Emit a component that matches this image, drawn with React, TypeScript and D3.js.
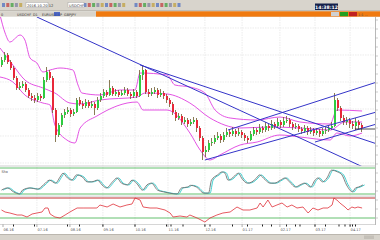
import React from "react";
import * as d3 from "d3";

// [open, high, low, close] (arbitrary price points)
const candles: [number, number, number, number][] = [
  [100,108,98,105],[105,113,103,110],[110,112,101,103],[103,105,95,97],[97,99,85,87],
  [87,89,75,77],[77,83,75,79],[79,84,77,81],[81,83,73,75],[75,77,67,69],
  [69,72,64,67],[67,70,62,65],[65,72,63,69],[69,71,64,67],[67,88,66,85],
  [85,98,83,93],[93,95,85,87],[87,89,52,55],[55,57,23,30],[30,42,28,40],
  [40,52,38,50],[50,56,47,53],[53,58,51,55],[55,57,48,51],[51,56,49,53],
  [53,67,52,65],[65,68,59,61],[61,64,56,59],[59,66,57,63],[63,65,57,59],
  [59,64,57,61],[61,63,50,57],[57,68,55,65],[65,72,63,69],[69,76,67,73],
  [73,75,68,70],[70,85,69,77],[77,79,69,71],[71,76,69,73],[73,75,68,70],
  [70,75,69,72],[72,78,70,75],[75,77,69,71],[71,73,66,69],[69,76,67,73],
  [73,75,67,69],[69,95,68,90],[90,100,85,95],[95,96,71,73],[73,76,68,71],
  [71,77,69,73],[73,78,71,75],[75,77,67,70],[70,76,68,72],[72,74,66,69],
  [69,71,62,65],[65,67,58,61],[61,63,50,53],[53,55,44,47],[47,52,45,49],
  [49,51,40,43],[43,48,41,45],[45,47,38,41],[41,46,39,43],[43,48,41,45],
  [45,47,33,37],[37,39,24,27],[27,29,5,13],[13,19,8,15],[15,25,13,22],
  [22,27,19,23],[23,30,21,27],[27,33,25,29],[29,31,22,25],[25,33,23,30],
  [30,37,28,33],[33,36,28,31],[31,38,29,34],[34,36,28,31],[31,37,29,33],
  [33,35,27,30],[30,32,24,27],[27,29,22,25],[25,34,24,31],[31,38,29,35],
  [35,37,30,33],[33,41,31,37],[37,39,32,35],[35,43,33,39],[39,41,34,37],
  [37,45,35,41],[41,43,36,39],[39,47,37,43],[43,45,37,40],[40,48,38,44],
  [44,49,42,45],[45,47,38,41],[41,43,35,38],[38,42,36,39],[39,41,33,36],
  [36,38,31,34],[34,40,32,37],[37,39,30,33],[33,38,31,35],[35,37,29,32],
  [32,37,30,34],[34,36,28,31],[31,37,29,34],[34,38,31,35],[35,40,33,37],
  [37,43,35,39],[39,72,38,65],[65,67,54,57],[57,59,44,47],[47,50,40,43],
  [43,48,40,45],[45,47,37,41],[41,44,36,39],[39,47,35,43],[43,45,36,40],
  [40,42,33,37],
];

// Bollinger bands [bar index, price]
const bbUpper: [number, number][] = [
  [-0.5,150],[1.2,132],[2.8,123],[6.2,130],[7.8,125],[9.5,107],[11.8,102],[13.8,93],
  [16.2,95],[19.5,97],[23.8,95],[25.5,80],[26.8,72],[32.8,70],[39.5,75],[44.5,75],
  [46.2,92],[55.2,90],[57.8,80],[62.8,78],[67.8,72],[71.2,55],[76.2,47],[85.2,45],
  [92.8,48],[99.5,43],[109.5,41],[111.8,55],[120.2,54],
];
const bbMiddle: [number, number][] = [
  [-0.5,117],[3.8,100],[7.8,85],[13.8,77],[17.8,72],[22.8,62],[26.2,61],[32.8,65],
  [45.2,68],[47.8,72],[55.2,71],[62.8,62],[69.5,47],[79.5,37],[89.5,38],[99.5,37],
  [109.5,35],[114.5,43],[120.2,43],
];
const bbLower: [number, number][] = [
  [-0.5,88],[3.8,83],[7.8,70],[13.8,62],[16.2,60],[17.8,40],[21.8,25],[24.5,22],
  [26.2,37],[31.8,49],[45.2,63],[47.2,55],[55.2,55],[62.8,32],[66.2,15],[69.5,5],
  [72.8,10],[79.5,20],[85.2,23],[92.8,30],[99.5,28],[109.5,25],[111.8,32],[116.2,29],
  [120.2,32],
];

// Trend lines [[idx, price],[idx, price]]
const trendLines: [number, number][][] = [
  [[11.8,148],[120.5,-2]],
  [[46.2,100],[126.2,20]],
  [[75.5,35],[126.2,84]],
  [[67.8,5],[126.2,54]],
  [[104.5,23],[126.2,42]],
];
const currentPrice = 36;

// Stochastic main line [idx, value]
const stoch: [number, number][] = [
  [0,29],[2,34],[4,25],[6,20],[7,29],[9.5,34],[12,31],[14,41],[16,52],[18,45],
  [19.5,59],[20.5,68],[22,57],[23.5,52],[25,64],[27,59],[28.5,48],[30,48],[32,52],
  [33.5,41],[35,34],[37,48],[38.5,57],[40,45],[42,41],[43.5,52],[45,45],[47,29],
  [48.5,41],[50,45],[52,29],[54,25],[56,22],[58.5,20],[60,34],[62,36],[63,40],
  [65,36],[67.5,22],[69,22],[70,52],[72,64],[73.5,71],[74.5,68],[75.5,52],[77,57],
  [78,64],[79,68],[80,57],[82,45],[83.5,48],[85,57],[86,64],[88,52],[89.5,45],
  [91,45],[93,52],[94.5,57],[96,48],[98,36],[99.5,41],[101,45],[103,36],[104.5,52],
  [105.5,57],[107,48],[108.5,57],[110,75],[112,71],[113.5,64],[115,41],[117,25],
  [118,34],[119,36],[120.5,41],
];

// RSI line [idx, value]
const rsi: [number, number][] = [
  [0,46],[1.2,42],[2.8,40],[5.2,36],[6.8,36],[8.5,32],[10.2,38],[11.8,40],[13.5,42],
  [14.5,50],[15.5,50],[16.2,38],[17.8,32],[19.5,30],[21.2,36],[22.8,42],[25.2,50],
  [27.2,50],[29.5,50],[31.8,50],[32.8,56],[35.2,52],[37.2,58],[39.5,52],[41.8,56],
  [43.5,58],[44.5,70],[46.2,66],[47.2,52],[49.5,50],[51.8,50],[54.5,46],[56.2,40],
  [57.2,32],[59.5,34],[61.8,32],[62.8,36],[65.2,30],[67.8,22],[69.5,30],[71.8,36],
  [73.8,40],[76.2,42],[78.5,52],[80.5,46],[82.8,46],[85.2,50],[86.2,60],[87.2,52],
  [88.8,66],[90.2,52],[91.8,56],[93.5,60],[95.2,52],[96.8,56],[98.5,50],[100.5,52],
  [102.2,40],[103.8,50],[105.5,46],[107.2,50],[108.8,50],[110.2,56],[110.8,70],
  [111.8,66],[112.8,60],[114.5,52],[115.5,46],[116.8,52],[117.8,50],[118.8,52],
  [120.2,50],
];

const monthLabels = ["06.16","07.16","08.16","09.16","10.16","11.16","12.16","01.17","02.17","03.17","04.17"];
const monthIdx = [0.5, 11.8, 22.8, 33.8, 44.5, 55.5, 67.8, 80.2, 92.8, 104.5, 116.2];
const eventIdx = [4, 11, 22, 26, 33.8, 44.5, 55, 56.5, 60.5, 67.8, 69.5, 77, 82, 87, 90, 95, 98, 99.5, 104.5, 108, 112.5, 114.5, 116.2, 117, 118];
const stochLevels = [80, 20];
const rsiLevels = [70, 30];
const priceGrid = [137, 110, 83, 56, 29, 2];

const W = 380, H = 240;
const FONT = "DejaVu Sans, sans-serif";
const UP = "#2ecc40";
const DOWN = "#e8283a";
const BAND = "#e040e0";
const TREND = "#3434c8";

export default function App() {
  const x = d3.scaleLinear().domain([0, 120]).range([1.5, 361.5]);
  const yMain = d3.scaleLinear().domain([0, 148]).range([165, 17]);
  const ySto = d3.scaleLinear().domain([20, 80]).range([194, 168]);
  const yRsi = d3.scaleLinear().domain([30, 70]).range([218, 198]);

  const bandLine = d3.line<[number, number]>().x((d) => x(d[0])).y((d) => yMain(d[1])).curve(d3.curveMonotoneX);
  const stoLine = d3.line<[number, number]>().x((d) => x(d[0])).y((d) => ySto(d[1])).curve(d3.curveMonotoneX);
  const rsiLine = d3.line<[number, number]>().x((d) => x(d[0])).y((d) => yRsi(d[1]));
  const straight = d3.line<[number, number]>().x((d) => x(d[0])).y((d) => yMain(d[1]));

  return (
    <div style={{ position: "fixed", left: 0, top: 0 }}>
      <svg width={W} height={H} style={{ display: "block", background: "#fff" }} fontFamily={FONT}>
        <defs>
          <clipPath id="mainClip"><rect x={0} y={17} width={375} height={149} /></clipPath>
        </defs>
        {/* toolbar */}
        <rect x={0} y={0} width={W} height={11} fill="#d8d4cc" />
        <rect x={0} y={10.5} width={W} height={0.8} fill="#a8a49c" />
        {d3.range(0, 26).map((i) => (
          <rect key={"ic" + i} x={2 + i * 4.3 + (i > 4 ? 60 : 0) + (i > 14 ? 8 : 0)} y={3} width={3} height={4}
            fill={["#5070c0", "#c04040", "#40a040", "#8080a0", "#c0a040"][i % 5]} opacity={0.75} />
        ))}
        <rect x={26} y={2.5} width={22} height={5} fill="#fff" stroke="#999" strokeWidth={0.4} />
        <text x={27} y={6.6} fontSize={3.6} fill="#333">2016.10.20 12</text>
        <rect x={68} y={2.5} width={16} height={5} fill="#fff" stroke="#999" strokeWidth={0.4} />
        <text x={69} y={6.6} fontSize={3.6} fill="#333">USDCHF</text>
        <rect x={315} y={3.5} width={23} height={6.5} fill="#14204a" />
        <text x={326.5} y={8.6} fontSize={4.6} fill="#fff" textAnchor="middle" fontWeight="bold">14:38:12</text>
        {/* tab bar */}
        <rect x={0} y={11.3} width={W} height={5.4} fill="#d8d4cc" />
        <rect x={96} y={11.3} width={W - 96} height={5.4} fill="#f07a10" />
        {["0", "USDCHF", "D1", "EURUSD", "GBP", "GBPJPY"].map((t, i) => (
          <text key={"tab" + i} x={[1, 17, 33, 42, 55, 64][i]} y={15.8} fontSize={3.4} fill="#333">{t}</text>
        ))}
        <rect x={54} y={12} width={6} height={4} fill="#3050c0" opacity={0.8} />
        <rect x={331} y={12} width={8} height={4.2} fill="#d0d0d0" />
        <rect x={340} y={12} width={8} height={4.2} fill="#20a020" />
        <rect x={349} y={12} width={8} height={4.2} fill="#c02020" />
        <text x={358} y={15.6} fontSize={3.4} fill="#555">1:1 ...</text>

        {/* main panel grid */}
        {priceGrid.map((v, i) => (
          <line key={"hg" + i} x1={0} x2={375} y1={yMain(v)} y2={yMain(v)} stroke="#e4e4e4" strokeWidth={0.7} strokeDasharray="1.5,1" />
        ))}
        {monthIdx.slice(1).map((m, i) => (
          <line key={"vg" + i} x1={x(m)} x2={x(m)} y1={17} y2={225} stroke="#e4e4e4" strokeWidth={0.7} strokeDasharray="1.5,1" />
        ))}

        <g clipPath="url(#mainClip)">
          {/* bollinger */}
          {[bbUpper, bbMiddle, bbLower].map((b, i) => (
            <path key={"bb" + i} d={bandLine(b) || ""} fill="none" stroke={BAND} strokeWidth={0.9} />
          ))}
          {/* candles */}
          {candles.map((c, i) => {
            const [o, h, l, cl] = c;
            const col = cl >= o ? UP : DOWN;
            const top = yMain(Math.max(o, cl));
            const bot = yMain(Math.min(o, cl));
            return (
              <g key={"c" + i} shapeRendering="crispEdges">
                <line x1={x(i)} x2={x(i)} y1={yMain(h)} y2={yMain(l)} stroke="#6b5a2a" strokeWidth={0.8} />
                <rect x={x(i) - 1} y={top} width={2} height={Math.max(0.8, bot - top)} fill={col} />
              </g>
            );
          })}
          {/* trend lines */}
          {trendLines.map((t, i) => (
            <path key={"tl" + i} d={straight(t) || ""} fill="none" stroke={TREND} strokeWidth={1} />
          ))}
          <line x1={x(117.8)} x2={375} y1={yMain(currentPrice)} y2={yMain(currentPrice)} stroke="#222" strokeWidth={0.8} />
        </g>

        {/* right price axis */}
        <line x1={375.5} x2={375.5} y1={17} y2={225} stroke="#888" strokeWidth={0.6} />
        {d3.range(0, 23).map((i) => (
          <line key={"rt" + i} x1={375.5} x2={378} y1={20 + i * 9} y2={20 + i * 9} stroke="#999" strokeWidth={0.5} />
        ))}

        {/* panel separators */}
        <rect x={0} y={165.5} width={375} height={1} fill="#d0d0d0" />
        <rect x={0} y={195.6} width={375} height={1} fill="#d0d0d0" />

        {/* stochastic */}
        {stochLevels.map((l, i) => (
          <line key={"sl" + i} x1={0} x2={375} y1={ySto(l)} y2={ySto(l)} stroke="#3cb04a" strokeWidth={0.8} />
        ))}
        <text x={1.5} y={173} fontSize={3.8} fill="#444">Sto</text>
        <path d={stoLine(stoch) || ""} fill="none" stroke="#40d0d0" strokeWidth={1} transform="translate(1.6,0)" />
        <path d={stoLine(stoch) || ""} fill="none" stroke="#707070" strokeWidth={0.9} />

        {/* rsi */}
        <line x1={0} x2={375} y1={yRsi(rsiLevels[0])} y2={yRsi(rsiLevels[0])} stroke="#c03030" strokeWidth={1} />
        <line x1={0} x2={375} y1={yRsi(rsiLevels[1])} y2={yRsi(rsiLevels[1])} stroke="#3cb04a" strokeWidth={0.8} />
        <path d={rsiLine(rsi) || ""} fill="none" stroke="#e03038" strokeWidth={0.8} />

        {/* time axis */}
        <line x1={0} x2={375} y1={224.5} y2={224.5} stroke="#bbb" strokeWidth={0.6} />
        {eventIdx.map((e, i) => (
          <rect key={"ev" + i} x={x(e) - 0.5} y={224.5} width={1} height={2} fill="#222" />
        ))}
        {monthLabels.map((m, i) => (
          <g key={"ml" + i}>
            <line x1={x(monthIdx[i])} x2={x(monthIdx[i])} y1={224.5} y2={227} stroke="#555" strokeWidth={0.5} />
            <text x={x(monthIdx[i]) + 0.5} y={231} fontSize={3.6} fill="#555">{m}</text>
          </g>
        ))}
        {/* bottom bar */}
        <rect x={0} y={234} width={W} height={6} fill="#d8d4cc" />
        <rect x={0} y={234} width={W} height={0.6} fill="#a8a49c" />
        <rect x={364} y={235.5} width={10} height={3.5} fill="#c4c0b8" />
      </svg>
    </div>
  );
}
